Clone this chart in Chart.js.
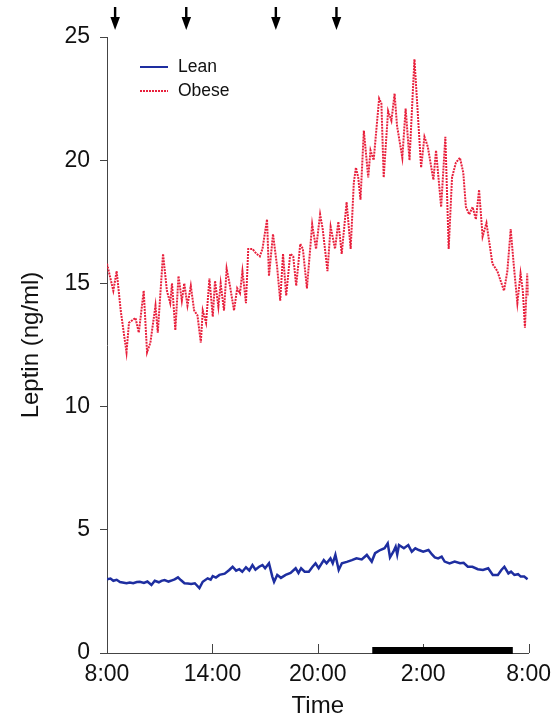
<!DOCTYPE html>
<html>
<head>
<meta charset="utf-8">
<script src="https://cdn.jsdelivr.net/npm/chart.js@4"></script>
<style>
  html, body { margin: 0; padding: 0; background: #fff; }
  #wrap { width: 559px; height: 721px; }
</style>
</head>
<body>
<div id="wrap"><canvas id="grafico" width="559" height="721"></canvas></div>
<script>
// time in hours after 8:00
const timeLabels = ["8:00", "14:00", "20:00", "2:00", "8:00"];
const mealHours = [0.45, 4.5, 9.6, 13.05];
const sleepPeriod = [15.1, 23.1];

const obeseHours = [0.0, 0.36, 0.55, 0.78, 1.11, 1.25, 1.62, 1.81, 2.09, 2.28, 2.47, 2.76, 2.89, 3.19, 3.41, 3.6, 3.7, 3.89,
  4.07, 4.26, 4.4, 4.58, 4.77, 4.96, 5.15, 5.34, 5.45, 5.64, 5.83, 6.02, 6.15, 6.34, 6.47, 6.66, 6.81, 7.0, 7.23, 7.41,
  7.57, 7.71, 7.91, 8.04, 8.28, 8.51, 8.7, 8.85, 9.11, 9.22, 9.45, 9.68, 9.86, 10.02, 10.2, 10.43, 10.6, 10.77, 11.0,
  11.15, 11.38, 11.68, 11.9, 12.13, 12.28, 12.55, 12.73, 12.98, 13.17, 13.36, 13.64, 13.87, 14.05, 14.17, 14.3, 14.43,
  14.62, 14.87, 15.0, 15.18, 15.49, 15.62, 15.75, 16.0, 16.19, 16.37, 16.51, 16.81, 17.0, 17.22, 17.5, 17.7, 17.88,
  18.07, 18.26, 18.58, 18.73, 19.02, 19.26, 19.45, 19.64, 19.86, 20.09, 20.28, 20.43, 20.62, 20.81, 21.0, 21.18,
  21.38, 21.6, 21.94, 22.22, 22.6, 22.79, 22.98, 23.16, 23.36, 23.54, 23.67, 23.79, 23.92, 24.0];
const obeseLeptin = [15.8, 14.7, 15.5, 13.9, 12.2, 13.4, 13.6, 13.0, 14.7, 12.2, 12.6, 14.1, 13.0, 16.2, 14.7, 14.2, 15.0, 13.1,
  15.3, 14.3, 15.0, 14.1, 14.9, 13.9, 13.7, 12.6, 13.9, 13.4, 15.2, 13.65, 15.1, 14.05, 15.0, 13.9, 15.6, 14.9, 13.9, 14.8,
  14.6, 15.5, 14.2, 16.4, 16.4, 16.2, 16.1, 16.4, 17.6, 15.3, 17.0, 15.7, 14.3, 16.2, 14.5, 16.2, 16.1, 14.9, 16.6,
  16.4, 14.8, 17.4, 16.4, 17.8, 17.2, 15.5, 17.3, 16.4, 17.5, 16.2, 18.3, 16.4, 19.1, 19.7, 19.3, 18.4,
  21.2, 19.3, 20.4, 20.0, 22.5, 22.3, 19.3, 22.0, 21.6, 22.7, 21.4, 20.1, 22.1, 20.0, 24.1, 21.8, 19.7,
  20.95, 20.55, 19.2, 20.4, 18.1, 20.95, 16.4, 19.3, 19.9, 20.1, 19.5, 18.1, 17.8, 18.1, 17.6, 18.8,
  16.9, 17.45, 15.8, 15.5, 14.7, 15.5, 17.2, 15.7, 14.2, 15.4, 14.7, 13.2, 15.4, 14.5];

const leanHours = [0.0, 0.2, 0.36, 0.55, 0.74, 1.11, 1.3, 1.49, 1.7, 1.87, 2.1, 2.3, 2.53, 2.72, 2.95, 3.1, 3.28, 3.5, 3.7,
  3.85, 4.04, 4.2, 4.41, 4.6, 4.79, 5.0, 5.26, 5.45, 5.73, 5.9, 6.02, 6.2, 6.4, 6.7, 6.96, 7.15, 7.35, 7.53, 7.7, 7.91,
  8.1, 8.28, 8.45, 8.66, 8.85, 9.0, 9.22, 9.41, 9.51, 9.69, 9.9, 10.17, 10.45, 10.74, 10.9, 11.05, 11.25, 11.49, 11.7,
  11.87, 12.05, 12.34, 12.5, 12.72, 12.85, 13.0, 13.19, 13.37, 13.65, 13.94, 14.2, 14.5, 14.79, 15.07, 15.26, 15.55,
  15.8, 15.98, 16.11, 16.3, 16.43, 16.52, 16.62, 16.9, 17.15, 17.35, 17.55, 17.75, 18.0, 18.3, 18.5, 18.66, 18.85,
  19.05, 19.22, 19.5, 19.79, 20.1, 20.3, 20.54, 20.8, 21.11, 21.4, 21.7, 21.96, 22.25, 22.45, 22.62, 22.85, 23.0,
  23.19, 23.4, 23.55, 23.75, 23.94];
const leanLeptin = [2.99, 3.02, 2.93, 2.97, 2.88, 2.83, 2.86, 2.83, 2.88, 2.89, 2.84, 2.9, 2.76, 2.93, 2.87, 2.93, 2.96, 2.9, 2.95,
  2.99, 3.07, 2.96, 2.83, 2.82, 2.8, 2.83, 2.63, 2.89, 3.03, 2.98, 3.12, 3.06, 3.17, 3.22, 3.37, 3.5, 3.34, 3.4, 3.3, 3.48,
  3.35, 3.57, 3.38, 3.5, 3.57, 3.44, 3.64, 3.1, 2.89, 3.17, 3.05, 3.17, 3.25, 3.44, 3.25, 3.44, 3.3, 3.3, 3.5,
  3.64, 3.44, 3.77, 3.64, 3.84, 3.64, 3.98, 3.37, 3.64, 3.7, 3.77, 3.84, 3.8, 3.98, 3.71, 4.05, 4.18,
  4.25, 4.45, 3.88, 4.11, 4.31, 4.0, 4.38, 4.25, 4.38, 4.11, 4.25, 4.18, 4.11, 4.18, 4.0, 3.88, 3.84,
  3.91, 3.71, 3.64, 3.71, 3.64, 3.66, 3.5, 3.5, 3.4, 3.37, 3.44, 3.17, 3.17, 3.37, 3.5, 3.23, 3.3,
  3.17, 3.2, 3.1, 3.1, 2.99];

const FONT = "'Liberation Sans', Arial, Helvetica, sans-serif";
const LEAN_COLOR = "#1e2ea0";
const OBESE_COLOR = "#e8203c";

function toPoints(xs, ys) {
  return xs.map((x, i) => ({ x: x, y: ys[i] }));
}

// extras: inward x ticks, sleep bar, meal arrows, legend
const extrasPlugin = {
  id: "extras",
  afterDraw(chart) {
    const ctx = chart.ctx;
    const x = chart.scales.x;
    const y = chart.scales.y;
    const bottom = y.getPixelForValue(0);

    ctx.save();
    // x ticks pointing up into the plot
    ctx.strokeStyle = "#444";
    ctx.lineWidth = 1;
    for (let h = 6; h <= 24; h += 6) {
      const px = Math.round(x.getPixelForValue(h)) + 0.5;
      ctx.beginPath();
      ctx.moveTo(px, bottom);
      ctx.lineTo(px, bottom - 9);
      ctx.stroke();
    }

    // night bar
    ctx.fillStyle = "#000";
    const x1 = x.getPixelForValue(sleepPeriod[0]);
    const x2 = x.getPixelForValue(sleepPeriod[1]);
    ctx.fillRect(x1, bottom - 6, x2 - x1, 7);

    // meal arrows
    mealHours.forEach(h => {
      const px = x.getPixelForValue(h);
      ctx.fillStyle = "#000";
      ctx.fillRect(px - 1, 7, 2.4, 13);
      ctx.beginPath();
      ctx.moveTo(px - 4.5, 17);
      ctx.lineTo(px + 5, 17);
      ctx.lineTo(px + 0.2, 30);
      ctx.closePath();
      ctx.fill();
    });

    // legend
    ctx.font = "17.5px " + FONT;
    ctx.textBaseline = "middle";
    ctx.fillStyle = "#111";
    chart.data.datasets.forEach((ds, i) => {
      const ly = 67 + i * 24;
      ctx.strokeStyle = ds.borderColor;
      ctx.lineWidth = 2;
      ctx.setLineDash(ds.borderDash || []);
      ctx.beginPath();
      ctx.moveTo(140, ly);
      ctx.lineTo(168, ly);
      ctx.stroke();
      ctx.setLineDash([]);
      ctx.fillText(ds.label, 178, ly);
    });
    ctx.restore();
  }
};

const ctx = document.getElementById("grafico").getContext("2d");
new Chart(ctx, {
  type: "line",
  data: {
    datasets: [
      {
        label: "Lean",
        data: toPoints(leanHours, leanLeptin),
        borderColor: LEAN_COLOR,
        borderWidth: 2.5,
        pointRadius: 0,
        tension: 0
      },
      {
        label: "Obese",
        data: toPoints(obeseHours, obeseLeptin),
        borderColor: OBESE_COLOR,
        borderWidth: 2,
        borderDash: [2, 1],
        pointRadius: 0,
        tension: 0
      }
    ]
  },
  options: {
    responsive: false,
    animation: false,
    layout: { padding: { left: 0, top: 37, right: 28, bottom: 0 } },
    plugins: { legend: { display: false }, tooltip: { enabled: false } },
    scales: {
      x: {
        type: "linear",
        min: 0,
        max: 24,
        afterFit: s => { s.height = 68; },
        afterBuildTicks: s => { s.ticks = [0, 6, 12, 18, 24].map(v => ({ value: v })); },
        grid: { display: false, drawTicks: false },
        border: { display: true, color: "#444", width: 1 },
        ticks: {
          padding: 8,
          color: "#111",
          font: { family: FONT, size: 23 },
          maxRotation: 0,
          callback: v => timeLabels[v / 6]
        },
        title: {
          display: true,
          text: "Time",
          color: "#111",
          font: { family: FONT, size: 24 },
          padding: { top: 2, bottom: 0 }
        }
      },
      y: {
        min: 0,
        max: 25,
        afterFit: s => { s.width = 107; },
        ticks: {
          stepSize: 5,
          padding: 10,
          color: "#111",
          font: { family: FONT, size: 23 }
        },
        grid: { drawOnChartArea: false, drawTicks: true, tickLength: 7, color: "#444" },
        border: { display: true, color: "#444", width: 1 },
        title: {
          display: true,
          text: "Leptin (ng/ml)",
          color: "#111",
          font: { family: FONT, size: 24 },
          padding: { top: 17, bottom: 0 }
        }
      }
    }
  },
  plugins: [extrasPlugin]
});
</script>
</body>
</html>
